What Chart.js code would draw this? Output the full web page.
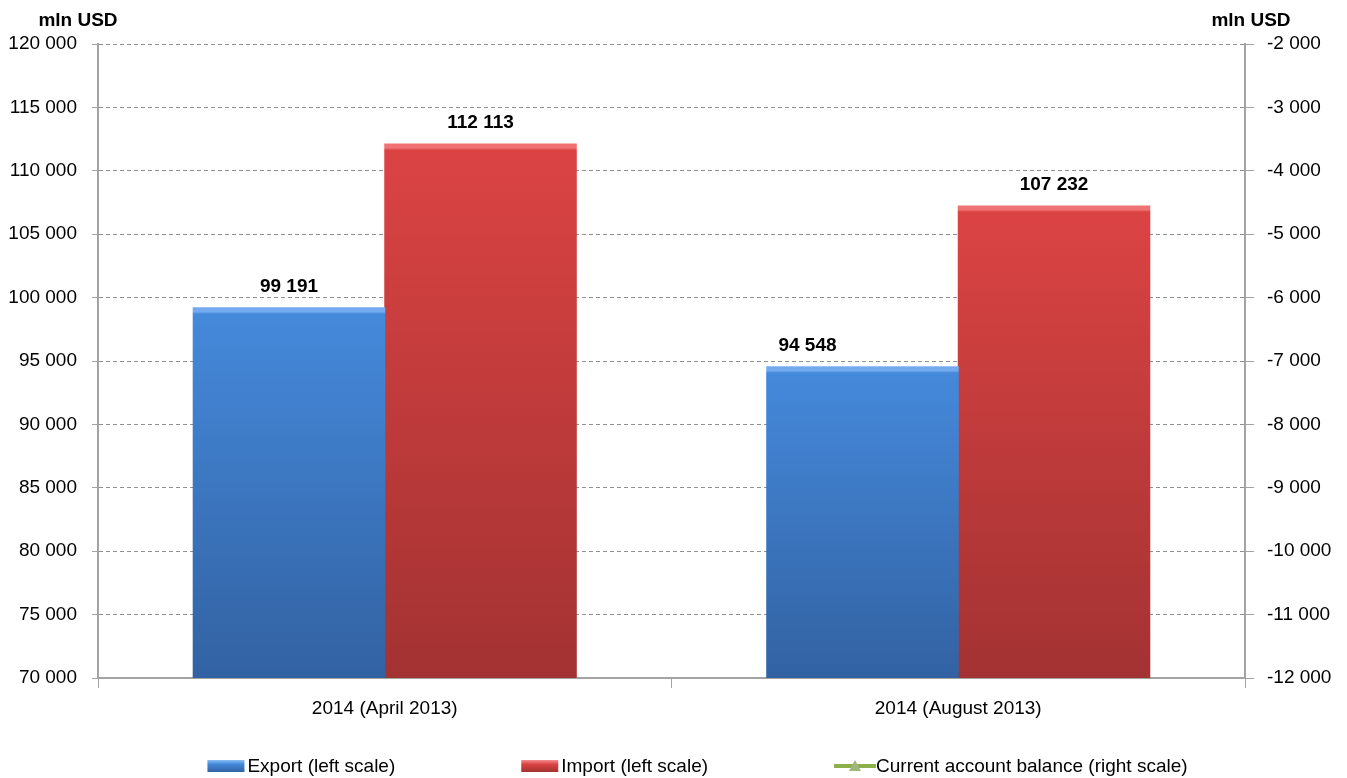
<!DOCTYPE html>
<html>
<head>
<meta charset="utf-8">
<title>Export, import and current account balance</title>
<script src="https://cdn.jsdelivr.net/npm/chart.js@4"></script>
<style>
  html, body { margin: 0; padding: 0; background: #fff; }
  #wrap { width: 1347px; height: 778px; position: relative; }
</style>
</head>
<body>
<div id="wrap"><canvas id="tradeChart"></canvas></div>
<script>
/* ── Data ─────────────────────────────────────────────────────────────── */
const categories = ["2014 (April 2013)", "2014 (August 2013)"];
const exportValues = [99191, 94548];
const importValues = [112113, 107232];
const balanceValues = [-12922, -12684]; // below the right scale, so clipped
const seriesLabels = ["Export (left scale)", "Import (left scale)", "Current account balance (right scale)"];
const unitLabel = "mln USD";

const FONT = '"Liberation Sans", Arial, sans-serif';

/* ── Helpers ──────────────────────────────────────────────────────────── */
function fmt(v) {
  const s = Math.abs(v).toString().replace(/\B(?=(\d{3})+(?!\d))/g, " ");
  return (v < 0 ? "-" : "") + s;
}

// vertical gradient per bar: thin bright bevel at the top, then light → dark
function barFill(hi, top, bottom) {
  return (ctx) => {
    const chart = ctx.chart;
    const area = chart.chartArea;
    if (!area || ctx.raw == null) return top;
    const yTop = chart.scales.y.getPixelForValue(ctx.raw);
    const h = Math.max(area.bottom - yTop, 1);
    const g = chart.ctx.createLinearGradient(0, yTop, 0, area.bottom);
    g.addColorStop(0, hi);
    g.addColorStop(Math.min(4 / h, 0.5), hi);
    g.addColorStop(Math.min(6 / h, 0.5), top);
    g.addColorStop(1, bottom);
    return g;
  };
}

/* ── Plugins ──────────────────────────────────────────────────────────── */
const valueLabels = {
  id: "valueLabels",
  afterDatasetsDraw(chart, args, opts) {
    const { ctx } = chart;
    ctx.save();
    ctx.font = "bold 19px " + FONT;
    ctx.fillStyle = "#000";
    ctx.textAlign = "center";
    ctx.textBaseline = "middle";
    chart.data.datasets.forEach((ds, i) => {
      if (ds.type === "line") return;
      chart.getDatasetMeta(i).data.forEach((bar, j) => {
        const shift = (opts.shifts && opts.shifts[i + "-" + j]) || 0;
        ctx.fillText(fmt(ds.data[j]), bar.x + shift, bar.y - 21);
      });
    });
    ctx.restore();
  }
};

const unitTitles = {
  id: "unitTitles",
  afterDraw(chart) {
    const { ctx, scales } = chart;
    ctx.save();
    ctx.font = "bold 19px " + FONT;
    ctx.fillStyle = "#000";
    ctx.textAlign = "center";
    ctx.textBaseline = "middle";
    ctx.fillText(unitLabel, scales.y.right - 20, 21);
    ctx.fillText(unitLabel, scales.y1.left + 6, 21);
    ctx.restore();
  }
};

// single-row legend with wide, even gaps between items
const legendRow = {
  id: "legendRow",
  afterDraw(chart, args, opts) {
    const { ctx } = chart;
    ctx.save();
    ctx.font = "19px " + FONT;
    ctx.textBaseline = "middle";
    ctx.textAlign = "left";
    const items = chart.data.datasets.map((ds) => {
      const sym = ds.type === "line" ? 42 : 37;
      const gap = ds.type === "line" ? 0 : 3;
      return { ds, sym, gap, w: sym + gap + ctx.measureText(ds.label).width };
    });
    const total = items.reduce((s, it) => s + it.w, 0) + opts.gap * (items.length - 1);
    let x = chart.width / 2 + opts.shift - total / 2;
    const y = opts.y;
    items.forEach((it) => {
      const ds = it.ds;
      if (ds.type === "line") {
        ctx.strokeStyle = ds.borderColor;
        ctx.lineWidth = 4;
        ctx.beginPath();
        ctx.moveTo(x, y);
        ctx.lineTo(x + it.sym, y);
        ctx.stroke();
        const cx = x + it.sym / 2;
        ctx.fillStyle = ds.pointBackgroundColor;
        ctx.beginPath();
        ctx.moveTo(cx, y - 6);
        ctx.lineTo(cx + 6, y + 5);
        ctx.lineTo(cx - 6, y + 5);
        ctx.closePath();
        ctx.fill();
      } else {
        const g = ctx.createLinearGradient(0, y - 6, 0, y + 6);
        g.addColorStop(0, ds.legendLight);
        g.addColorStop(0.35, ds.legendMid);
        g.addColorStop(1, ds.legendDark);
        ctx.fillStyle = g;
        ctx.fillRect(x, y - 6, it.sym, 12);
      }
      ctx.fillStyle = "#000";
      ctx.fillText(ds.label, x + it.sym + it.gap, y + 1);
      x += it.w + opts.gap;
    });
    ctx.restore();
  }
};

/* ── Chart ────────────────────────────────────────────────────────────── */
Chart.defaults.font.family = FONT;
Chart.defaults.font.size = 19;
Chart.defaults.color = "#000";

const axisGray = "#a3a3a3";

new Chart(document.getElementById("tradeChart"), {
  type: "bar",
  data: {
    labels: categories,
    datasets: [
      {
        label: seriesLabels[0],
        data: exportValues,
        yAxisID: "y",
        backgroundColor: barFill("#74aaf0", "#4589db", "#3262a2"),
        borderWidth: 0,
        inflateAmount: 0.5,
        legendLight: "#8cc0f5", legendMid: "#4589db", legendDark: "#3262a2",
        categoryPercentage: 0.668,
        barPercentage: 1.0,
        order: 2
      },
      {
        label: seriesLabels[1],
        data: importValues,
        yAxisID: "y",
        backgroundColor: barFill("#f07272", "#db4343", "#a33232"),
        borderWidth: 0,
        inflateAmount: 0.5,
        legendLight: "#f39090", legendMid: "#db4343", legendDark: "#a33232",
        categoryPercentage: 0.668,
        barPercentage: 1.0,
        order: 2
      },
      {
        type: "line",
        label: seriesLabels[2],
        data: balanceValues,
        yAxisID: "y1",
        borderColor: "#8db04a",
        borderWidth: 4,
        pointStyle: "triangle",
        pointRadius: 7,
        pointBackgroundColor: "#9db77c",
        pointBorderColor: "#9db77c",
        order: 1
      }
    ]
  },
  options: {
    responsive: true,
    maintainAspectRatio: false,
    animation: false,
    layout: { padding: { top: 44, left: 0, right: 0, bottom: 0 } },
    plugins: {
      legend: { display: false },
      tooltip: { enabled: false },
      valueLabels: { shifts: { "0-1": -55 } },
      legendRow: { gap: 126, shift: 24, y: 766 }
    },
    scales: {
      x: {
        offset: true,
        afterFit: (s) => { s.height = 100; },
        grid: {
          offset: true,
          drawOnChartArea: false,
          color: axisGray,
          tickLength: 10
        },
        border: { color: axisGray, width: 2 },
        ticks: { padding: 9, color: "#000", font: { size: 19 } }
      },
      y: {
        position: "left",
        min: 70000,
        max: 120000,
        afterFit: (s) => { s.width = 98; },
        grid: {
          color: "#8f8f8f",
          lineWidth: 1,
          tickLength: 6,
          tickColor: axisGray,
          tickBorderDash: []
        },
        // in Chart.js v4 border.dash sets the dash of the grid lines
        border: { color: axisGray, width: 2, dash: [4, 3] },
        ticks: {
          stepSize: 5000,
          padding: 15,
          color: "#000",
          callback: (v) => fmt(v)
        }
      },
      y1: {
        position: "right",
        min: -12000,
        max: -2000,
        afterFit: (s) => { s.width = 102; },
        grid: {
          drawOnChartArea: false,
          tickLength: 9,
          color: axisGray
        },
        border: { color: axisGray, width: 2 },
        ticks: {
          stepSize: 1000,
          padding: 13,
          color: "#000",
          callback: (v) => fmt(v)
        }
      }
    }
  },
  plugins: [valueLabels, unitTitles, legendRow]
});
</script>
</body>
</html>
